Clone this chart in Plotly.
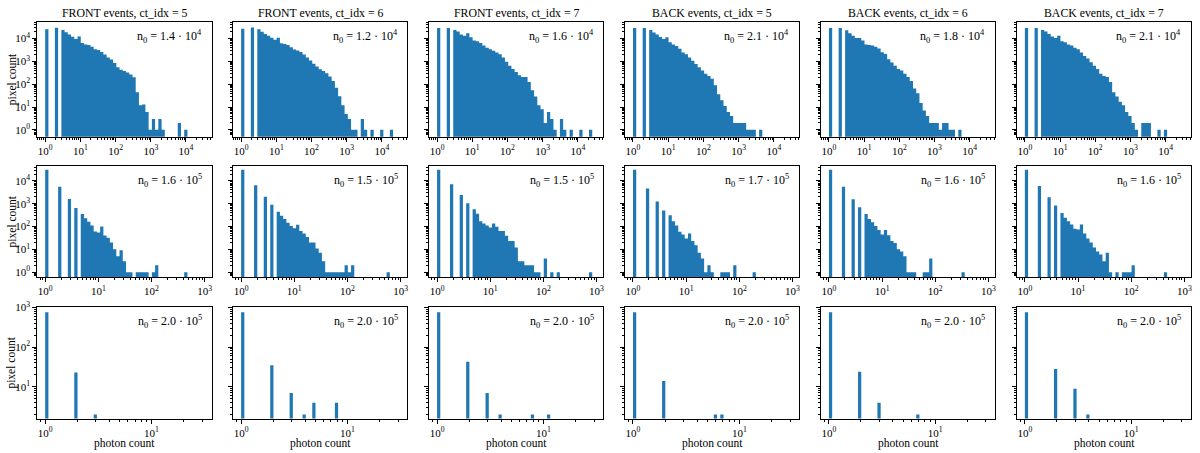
import numpy as np
import plotly.graph_objects as go

# column titles and per-panel n0 values
titles = ["FRONT events, ct_idx = 5", "FRONT events, ct_idx = 6", "FRONT events, ct_idx = 7",
          "BACK events, ct_idx = 5", "BACK events, ct_idx = 6", "BACK events, ct_idx = 7"]
n0_mant = [["1.4", "1.2", "1.6", "2.1", "1.8", "2.1"],
           ["1.6", "1.5", "1.5", "1.7", "1.6", "1.6"],
           ["2.0", "2.0", "2.0", "2.0", "2.0", "2.0"]]
n0_exp = [4, 5, 5]

# log10 of largest photon count per row (histogram bins: 50 log-spaced edges)
row_log_max = [4.5, 2.98, 1.49]
n_edges = 50

# row 1: pixel counts per bin
front5_r1 = [26000, 0, 0, 30000, 0, 24000, 19000, 15000, 12000, 9500, 12500, 6500, 5500, 5200, 4400,
             3400, 3200, 2600, 2000, 1500, 1200, 850, 550, 430, 380, 330, 270, 200, 45, 12, 13, 6, 1,
             3, 1, 3, 1, 0, 0, 0, 0, 2, 0, 1]
front6_r1 = [27000, 0, 0, 31000, 0, 26000, 20000, 16000, 13500, 11000, 9000, 11000, 6200, 5800, 5300,
             4200, 3300, 3000, 2600, 2000, 1500, 1100, 800, 600, 450, 380, 300, 220, 140, 70, 30, 12,
             5, 3, 1, 1, 0, 3, 1, 0, 1, 0, 0, 1, 0, 0, 1]
front7_r1 = [29000, 0, 0, 29000, 0, 24000, 20500, 15000, 13500, 17000, 11500, 8200, 7700, 6500, 5000,
             4000, 3400, 2900, 2450, 2070, 1480, 970, 650, 470, 340, 245, 205, 205, 126, 55, 29, 12,
             8, 2, 6, 3, 1, 0, 3, 1, 0, 1, 0, 0, 1, 0, 0, 1]
back5_r1 = [29000, 0, 0, 29000, 0, 24000, 18700, 15000, 11800, 9700, 11500, 7000, 5500, 4700, 3600,
            2450, 2070, 1480, 1070, 770, 550, 400, 290, 230, 175, 91, 36, 20, 11, 6, 4, 2, 2, 2, 2,
            1, 1, 1, 0, 1]
back6_r1 = [29000, 0, 0, 29000, 0, 23000, 17400, 13500, 10700, 10700, 8200, 5500, 5300, 5000, 4400,
            3700, 2500, 2100, 1250, 900, 650, 470, 400, 290, 210, 140, 65, 40, 15, 7, 4, 2, 2, 2, 1,
            2, 2, 1, 1, 0, 1]
back7_r1 = [29000, 0, 0, 29000, 0, 24000, 20500, 16000, 12500, 10700, 13500, 7700, 7000, 5500, 5000,
            4000, 3400, 2450, 1750, 1340, 910, 650, 470, 290, 230, 205, 126, 44, 29, 17, 12, 6, 4, 2,
            1, 0, 2, 2, 2, 0, 0, 1, 0, 1]

# row 2: pixel counts per bin
front5_r2 = [31000, 0, 0, 0, 5500, 0, 0, 1600, 0, 650, 0, 350, 230, 160, 110, 60, 55, 100, 40, 32, 20,
             10, 5, 9, 3, 1, 1, 0, 1, 1, 1, 1, 0, 1, 2, 0, 0, 0, 0, 0, 0, 0, 0, 1]
front6_r2 = [31000, 0, 0, 0, 6500, 0, 0, 2000, 0, 900, 0, 440, 300, 215, 145, 105, 83, 120, 63, 50, 35,
             20, 20, 11, 7, 3, 1, 1, 1, 1, 1, 1, 2, 1, 2, 0, 0, 0, 0, 0, 0, 0, 0, 0, 0, 1]
front7_r2 = [31000, 0, 0, 0, 7200, 0, 0, 2400, 0, 1050, 0, 575, 363, 170, 135, 112, 91, 135, 98, 63, 63,
             39, 23, 23, 12, 3, 3, 2, 2, 2, 1, 1, 0, 4, 0, 1, 0, 1, 0, 0, 0, 0, 0, 0, 0, 0, 0, 1]
back5_r2 = [31000, 0, 0, 0, 4700, 0, 0, 1240, 0, 510, 0, 310, 170, 112, 59, 45, 30, 50, 23, 15, 7, 4,
            1, 2, 1, 0, 0, 1, 1, 1, 0, 2, 0, 0, 0, 0, 0, 1]
back6_r2 = [31000, 0, 0, 0, 5500, 0, 0, 1580, 0, 700, 0, 355, 215, 155, 105, 70, 45, 70, 41, 23, 19, 10,
            8, 5, 1, 1, 1, 0, 0, 1, 1, 4, 0, 0, 0, 0, 0, 0, 0, 0, 0, 1]
back7_r2 = [31000, 0, 0, 0, 6000, 0, 0, 1900, 0, 830, 0, 390, 240, 170, 122, 80, 75, 122, 50, 30, 20, 12,
            8, 6, 3, 7, 1, 0, 1, 0, 1, 1, 1, 2, 0, 0, 0, 0, 0, 0, 0, 0, 0, 1]

# row 3: photon count values and pixel counts
front5_r3_x, front5_r3_n = [1, 2, 3], [760, 23, 2]
front6_r3_x, front6_r3_n = [1, 2, 3, 4, 5, 8], [760, 35, 7, 2, 4, 4]
front7_r3_x, front7_r3_n = [1, 2, 3, 4, 8, 11], [760, 43, 7, 2, 2, 2]
back5_r3_x, back5_r3_n = [1, 2, 6, 7], [760, 14, 2, 2]
back6_r3_x, back6_r3_n = [1, 2, 3, 7], [760, 24, 4, 2]
back7_r3_x, back7_r3_n = [1, 2, 3, 4], [760, 28, 9, 2]

x_tick_exps = [[0, 1, 2, 3, 4], [0, 1, 2, 3], [0, 1]]
y_tick_exps = [[0, 1, 2, 3, 4], [0, 1, 2, 3, 4], [1, 2, 3]]
y_ranges = [[-0.30, 4.74], [-0.22, 4.67], [0.20, 3.02]]

BLUE = "#1f77b4"
FONT = "Liberation Serif"

# pixel layout
W, H = 1200, 453
col_left = [37.3 + 196.1 * c for c in range(6)]
col_w = 174.4
row_top = [15, 161.5, 305]
row_bot = [132, 275, 419]

row_edges = [np.logspace(0, t, n_edges) for t in row_log_max]
r3_edges = row_edges[2]
rows_counts = [
    [front5_r1, front6_r1, front7_r1, back5_r1, back6_r1, back7_r1],
    [front5_r2, front6_r2, front7_r2, back5_r2, back6_r2, back7_r2],
    [np.histogram(v, bins=r3_edges, weights=w)[0] for v, w in [
        (front5_r3_x, front5_r3_n), (front6_r3_x, front6_r3_n), (front7_r3_x, front7_r3_n),
        (back5_r3_x, back5_r3_n), (back6_r3_x, back6_r3_n), (back7_r3_x, back7_r3_n)]],
]


def bar_path(edges, counts, base=1e-3):
    xs, ys = [], []
    for k, c in enumerate(counts):
        if c > 0:
            xs += [edges[k], edges[k], edges[k + 1], edges[k + 1], edges[k], None]
            ys += [base, c, c, base, base, None]
    return xs, ys


def sup(e):
    return "10<sup>%d</sup>" % e


minor_vals = [m * 10.0 ** d for d in range(-1, 6) for m in range(2, 10)]

fig = go.Figure()
annotations = []
for r in range(3):
    for c in range(6):
        n = r * 6 + c + 1
        sfx = "" if n == 1 else str(n)
        xs, ys = bar_path(row_edges[r], rows_counts[r][c])
        fig.add_trace(go.Scatter(x=xs, y=ys, mode="lines", fill="toself", fillcolor=BLUE,
                                 line=dict(color=BLUE, width=0),
                                 hoverinfo="skip", xaxis="x" + sfx, yaxis="y" + sfx))
        t = row_log_max[r]
        axis_common = dict(type="log", showline=True, mirror=True, linecolor="black", linewidth=1,
                           ticks="outside", ticklen=4, tickwidth=0.8, tickcolor="black",
                           showgrid=False, zeroline=False,
                           tickfont=dict(family=FONT, size=11, color="black"),
                           minor=dict(ticks="outside", ticklen=2, tickwidth=0.6, tickcolor="black",
                                      tickvals=minor_vals, showgrid=False))
        fig.layout["xaxis" + sfx] = dict(
            axis_common, anchor="y" + sfx,
            domain=[col_left[c] / W, (col_left[c] + col_w) / W],
            range=[-0.05 * t, 1.05 * t],
            tickvals=[10.0 ** e for e in x_tick_exps[r]],
            ticktext=[sup(e) for e in x_tick_exps[r]])
        fig.layout["yaxis" + sfx] = dict(
            axis_common, anchor="x" + sfx,
            domain=[(H - row_bot[r]) / H, (H - row_top[r]) / H],
            range=y_ranges[r],
            tickvals=[10.0 ** e for e in y_tick_exps[r]],
            ticktext=[sup(e) for e in y_tick_exps[r]],
            showticklabels=(c == 0))
        annotations.append(dict(
            xref="x%s domain" % sfx, yref="y%s domain" % sfx, x=0.955, y=0.87,
            xanchor="right", yanchor="middle", showarrow=False,
            text="n<sub>0</sub> = %s · 10<sup>%d</sup>" % (n0_mant[r][c], n0_exp[r]),
            font=dict(family=FONT, size=12, color="black")))

for c in range(6):
    xc = (col_left[c] + col_w / 2) / W
    annotations.append(dict(xref="paper", yref="paper", x=xc, y=(H - 6) / H, text=titles[c],
                            showarrow=False, xanchor="center", yanchor="middle",
                            font=dict(family=FONT, size=11.8, color="black")))
    annotations.append(dict(xref="paper", yref="paper", x=xc, y=(H - 444) / H, text="photon count",
                            showarrow=False, xanchor="center", yanchor="middle",
                            font=dict(family=FONT, size=11.5, color="black")))
for r in range(3):
    annotations.append(dict(xref="paper", yref="paper", x=12 / W,
                            y=(H - (row_top[r] + row_bot[r]) / 2) / H, text="pixel count",
                            textangle=-90, showarrow=False, xanchor="center", yanchor="middle",
                            font=dict(family=FONT, size=11.5, color="black")))

fig.update_layout(width=W, height=H, margin=dict(l=0, r=0, t=0, b=0),
                  paper_bgcolor="white", plot_bgcolor="white", showlegend=False,
                  annotations=annotations)

fig.write_html("out.html", config={"displayModeBar": False},
               post_script="document.body.style.margin='0';")
